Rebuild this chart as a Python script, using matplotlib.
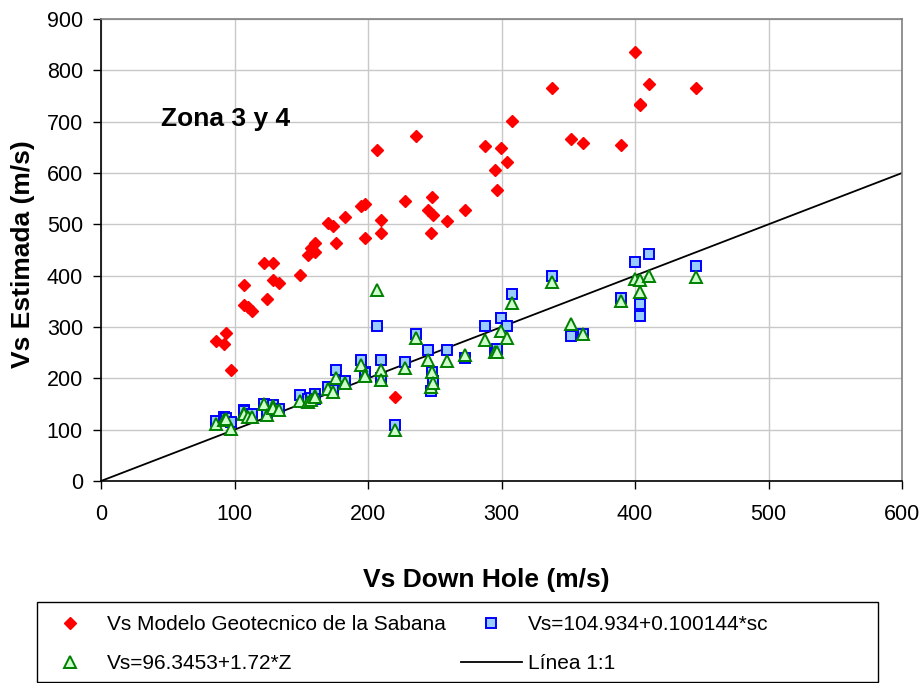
import matplotlib
matplotlib.use("Agg")
import matplotlib.pyplot as plt
from matplotlib.lines import Line2D
from matplotlib.patches import Rectangle

plt.rcParams['font.family'] = ['Liberation Sans', 'DejaVu Sans']

# Vs down hole (m/s), shared by the three estimates
vs_downhole = [86, 92.5, 94, 97.5, 107, 107, 110, 113, 122, 124, 129, 129, 133,
               149, 155, 157.5, 160, 160, 170, 174, 176, 182.5, 194.5, 197.5, 197.5,
               207, 209.5, 209.5, 220, 227.5, 236, 245, 247, 248, 249, 259, 272.5,
               287.5, 295, 297, 299.5, 304, 308, 338, 352, 361, 389.5, 400, 404, 404,
               410.5, 446]

# Vs Modelo Geotecnico de la Sabana
vs_modelo = [272, 267, 288, 217, 381, 342, 338, 331, 425, 355, 425, 391, 385,
             401, 440, 453, 464, 447, 503, 496, 463, 515, 535, 539, 473,
             644, 509, 483, 164, 546, 672, 528, 483, 554, 518, 507, 527,
             652, 605, 566, 648, 621, 702, 765, 667, 659, 655, 836, 733, 735,
             773, 765]

# Vs=104.934+0.100144*sc
vs_sc = [117, 124, 122, 114, 138, 136, 128, 130, 150, 133, 145, 148, 140,
         168, 160, 162, 170, 160, 183, 178, 216, 194, 236, 212, 210,
         302, 236, 200, 110, 231, 287, 256, 176, 213, 195, 256, 240,
         302, 250, 258, 318, 302, 364, 400, 282, 287, 357, 427, 344, 321,
         443, 419]

# Vs=96.3453+1.72*Z
vs_z = [111, 119, 120, 102, 132, 130, 125, 124, 150, 129, 147, 143, 138,
        156, 153, 158, 166, 164, 180, 173, 201, 190, 226, 207, 205,
        372, 216, 196, 99, 220, 278, 236, 183, 213, 190, 233, 245,
        274, 251, 251, 292, 278, 346, 387, 306, 287, 351, 393, 368, 391,
        400, 397]

line_11 = [0, 600]

fig = plt.figure(figsize=(9.22, 6.83), dpi=100)
ax = fig.add_axes([101 / 922, 1 - 481 / 683, 801 / 922, 462 / 683])

ax.plot(line_11, line_11, color='black', lw=1.3, zorder=2)
ax.plot(vs_downhole, vs_modelo, ls='none', marker='D', ms=6.5,
        color='#ff0000', mec='#ff0000', zorder=3)
ax.plot(vs_downhole, vs_sc, ls='none', marker='s', ms=6.8,
        mfc='#99ccff', mec='#0000ff', mew=1.4, zorder=4)
ax.plot(vs_downhole, vs_z, ls='none', marker='^', ms=8,
        mfc='#ccffcc', mec='#008000', mew=1.4, zorder=5)

ax.set_xlim(0, 600)
ax.set_ylim(0, 900)
ax.set_xticks(range(0, 601, 100))
ax.set_yticks(range(0, 901, 100))
ax.grid(True, color='#c8c8c8', lw=1)
ax.set_axisbelow(True)
ax.tick_params(labelsize=15.5, length=6, width=1, direction='out')
ax.tick_params(axis='x', pad=10.5)
ax.tick_params(axis='y', pad=7)
for side in ['left', 'bottom']:
    ax.spines[side].set_color('black')
    ax.spines[side].set_linewidth(1.2)
for side in ['top', 'right']:
    ax.spines[side].set_color('#808080')
    ax.spines[side].set_linewidth(1.2)

ax.set_xlabel('Vs Down Hole (m/s)', fontsize=19, fontweight='bold', va='center')
ax.set_ylabel('Vs Estimada (m/s)', fontsize=19, fontweight='bold', va='center')
ax.xaxis.set_label_coords(0.481, -0.214)
ax.yaxis.set_label_coords(-0.098, 0.491)

ax.text(45, 706, 'Zona 3 y 4', fontsize=19, fontweight='bold', va='center', ha='left')

# legend below the plot, frame drawn separately
fig.patches.append(Rectangle((37 / 922, 1 - 682 / 683), 841 / 922, 80 / 683,
                             transform=fig.transFigure, fill=False,
                             edgecolor='black', lw=1))
handles = [
    Line2D([], [], ls='none', marker='D', ms=6.5, color='#ff0000'),
    Line2D([], [], ls='none', marker='^', ms=8, mfc='#ccffcc', mec='#008000', mew=1.4),
    Line2D([], [], ls='none', marker='s', ms=6.8, mfc='#99ccff', mec='#0000ff', mew=1.4),
    Line2D([], [], color='black', lw=1.3),
]
labels = ['Vs Modelo Geotecnico de la Sabana', 'Vs=96.3453+1.72*Z',
          'Vs=104.934+0.100144*sc', 'Línea 1:1']
fig.legend(handles, labels, ncol=2, frameon=False, fontsize=15,
           loc='upper left', bbox_to_anchor=(40 / 922, 1 - 615 / 683),
           borderpad=0, borderaxespad=0, handlelength=2.9, handletextpad=0.3,
           columnspacing=0.75, labelspacing=0.95)

fig.savefig('out.png', dpi=100)
